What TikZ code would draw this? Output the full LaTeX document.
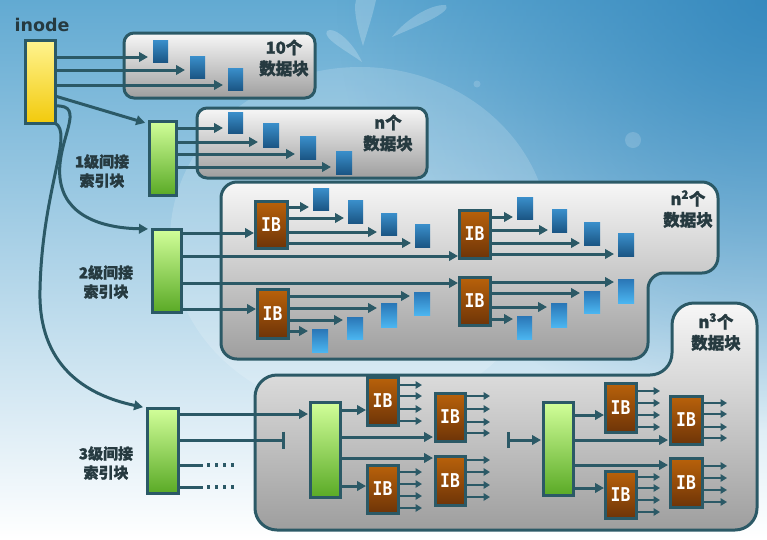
\documentclass[tikz,border=0pt]{standalone}
\usepackage{fontspec}
\newfontfamily\cjk[BoldFeatures={FakeBold=1.6}]{Noto Sans CJK SC}
\newfontfamily\dv{DejaVu Sans}
\newfontfamily\dvm{DejaVu Sans Mono}
\usetikzlibrary{arrows.meta,fadings}
\definecolor{ln}{HTML}{2B5966}
\definecolor{txt}{HTML}{263A40}
\definecolor{bgA}{HTML}{62AAD2}
\definecolor{bgB}{HTML}{A8D3E5}
\definecolor{bgC}{HTML}{2F84BB}
\definecolor{pT}{HTML}{F7F7F7}
\definecolor{pB}{HTML}{9E9E9E}
\definecolor{gT}{HTML}{D2FF9A}
\definecolor{gB}{HTML}{5AAA26}
\definecolor{yT}{HTML}{FFF490}
\definecolor{yB}{HTML}{F2CA0C}
\definecolor{ibT}{HTML}{B9620A}
\definecolor{ibB}{HTML}{6E3408}
\definecolor{dbT}{HTML}{3A8FCB}
\definecolor{dbB}{HTML}{1B5685}
\definecolor{lbT}{HTML}{2A76B6}
\definecolor{lbB}{HTML}{4BB5F0}
\tikzfading[name=fadeTR, inner color=transparent!15, outer color=transparent!100]
\pgfdeclarelayer{back}
\pgfdeclarelayer{mid}
\pgfsetlayers{back,mid,main}
\newcommand\mkbox[7]{%
  \pgfmathsetmacro\bw{#5-#3}\pgfmathsetmacro\bh{#6-#4}%
  \node[#1, anchor=north west, minimum width=\bw pt, minimum height=\bh pt] (#2) at (#3,#4) {#7};}
\newcommand\arr[4][]{\draw[conn,#1] (#2.east|-0,#4) -- (#3.west|-0,#4);}
\newcommand\outs[3]{\foreach \yy in {#2} {\draw[sconn] (#1.east|-0,\yy) -- ++(#3,0);}}
\newcommand\IBt{\scalebox{0.86}[1]{IB}}
\begin{document}
\begin{tikzpicture}[x=1pt,y=-1pt,
  conn/.style={draw=ln, line width=3pt, -{Triangle[length=9pt,width=9.5pt]}},
  sconn/.style={draw=ln, line width=2.4pt, -{Triangle[length=6.5pt,width=7.5pt]}},
  panel/.style={top color=pT, bottom color=pB, draw=ln, line width=3pt},
  bx/.style={rectangle, inner sep=0pt, outer sep=0pt},
  dblue/.style={bx, top color=dbT, bottom color=dbB},
  lblue/.style={bx, top color=lbT, bottom color=lbB},
  grn/.style={bx, top color=gT, bottom color=gB, draw=ln, line width=3pt},
  ylw/.style={bx, top color=yT, bottom color=yB, draw=ln, line width=3pt},
  ib/.style={bx, top color=ibT, bottom color=ibB, draw=ln, line width=3pt, text=white,
     font=\dvm\bfseries\fontsize{19}{19}\selectfont},
  lbl/.style={text=txt, align=center, font=\cjk\bfseries\fontsize{16.5}{21}\selectfont},
  slbl/.style={text=txt, align=center, font=\cjk\bfseries\fontsize{15}{19}\selectfont},
  deco/.style={fill=white, opacity=0.16}]
\useasboundingbox (0,0) rectangle (767,539);
\begin{pgfonlayer}{back}
\begin{scope}
\clip (0,0) rectangle (767,539);
\shade[top color=bgA, middle color=bgB, bottom color=white] (0,0) rectangle (767,539);
\fill[bgC, path fading=fadeTR] (767,0) circle (430);
% decorative splash
\fill[deco] (360,240) ellipse (190 and 173);
\fill[deco, opacity=0.22] (362,62) .. controls (345,50) and (322,38) .. (327,31) .. controls (333,26) and (352,40) .. (362,62) -- cycle;
\fill[deco, opacity=0.22] (363,46) .. controls (358,30) and (353,10) .. (356,0) -- (376,0) .. controls (372,18) and (367,32) .. (363,46) -- cycle;
\fill[deco, opacity=0.22] (392,37) .. controls (405,20) and (430,4) .. (446,5) .. controls (452,12) and (420,25) .. (392,37) -- cycle;
\fill[deco] (477,84) circle (3.5);
\fill[deco] (633,140) circle (8);
\end{scope}
% panels
\shadedraw[panel, rounded corners=10pt] (124,33) rectangle (315,98);
\shadedraw[panel, rounded corners=10pt] (197,108) rectangle (427,178);
\shadedraw[panel, rounded corners=16pt] (221,182) -- (718,182) -- (718,273) -- (648,273) -- (648,359) -- (221,359) -- cycle;
\shadedraw[panel, rounded corners=22pt] (255,375) -- (672,375) -- (672,303) -- (757,303) -- (757,530) -- (255,530) -- cycle;
\end{pgfonlayer}

% main index blocks
\mkbox{ylw}{inode}{25}{40}{55}{123}{}
\mkbox{grn}{g1}{149}{121}{176}{195}{}
\mkbox{grn}{g2}{152}{229}{181}{312}{}
\mkbox{grn}{g3}{147}{408}{178}{493}{}

% panel 1 data blocks
\mkbox{dblue}{a1}{153}{40}{168}{62}{}
\mkbox{dblue}{a2}{190}{56}{205}{78}{}
\mkbox{dblue}{a3}{228}{68}{243}{90}{}
% panel 2 data blocks
\mkbox{dblue}{b1}{228}{112}{243}{133}{}
\mkbox{dblue}{b2}{263}{123}{279}{147}{}
\mkbox{dblue}{b3}{300}{136}{316}{159}{}
\mkbox{dblue}{b4}{336}{151}{352}{174}{}

% panel 3
\mkbox{ib}{ia}{255}{201}{287}{248}{\IBt}
\mkbox{ib}{ib}{257}{289}{288}{338}{\IBt}
\mkbox{ib}{ic}{459}{210}{490}{258}{\IBt}
\mkbox{ib}{id}{459}{277}{490}{325}{\IBt}
\mkbox{dblue}{ca1}{313}{188}{329}{210}{}
\mkbox{dblue}{ca2}{348}{200}{363}{223}{}
\mkbox{dblue}{ca3}{381}{213}{397}{235}{}
\mkbox{dblue}{ca4}{415}{224}{430}{247}{}
\mkbox{lblue}{cb1}{414}{292}{430}{315}{}
\mkbox{lblue}{cb2}{381}{303}{397}{327}{}
\mkbox{lblue}{cb3}{347}{317}{363}{339}{}
\mkbox{lblue}{cb4}{312}{329}{328}{352}{}
\mkbox{dblue}{cc1}{517}{197}{533}{219}{}
\mkbox{dblue}{cc2}{552}{209}{567}{232}{}
\mkbox{dblue}{cc3}{584}{222}{600}{245}{}
\mkbox{dblue}{cc4}{618}{233}{634}{256}{}
\mkbox{lblue}{cd1}{618}{279}{634}{303}{}
\mkbox{lblue}{cd2}{584}{291}{600}{313}{}
\mkbox{lblue}{cd3}{551}{303}{567}{327}{}
\mkbox{lblue}{cd4}{517}{316}{532}{339}{}

% bottom panel
\mkbox{grn}{gi1}{310}{402}{340}{497}{}
\mkbox{grn}{gi2}{543}{402}{573}{495}{}
\mkbox{ib}{i1}{367}{377}{398}{425}{\IBt}
\mkbox{ib}{i2}{435}{393}{465}{441}{\IBt}
\mkbox{ib}{i3}{367}{465}{398}{513}{\IBt}
\mkbox{ib}{i4}{435}{456}{465}{505}{\IBt}
\mkbox{ib}{i5}{605}{383}{636}{432}{\IBt}
\mkbox{ib}{i6}{670}{396}{702}{444}{\IBt}
\mkbox{ib}{i7}{605}{471}{636}{518}{\IBt}
\mkbox{ib}{i8}{670}{458}{702}{507}{\IBt}

\coordinate (tl) at (285,440);
\coordinate (tr) at (507,440);

\begin{pgfonlayer}{mid}
% inode -> panel 1
\arr[shorten >=5pt]{inode}{a1}{57}
\arr[shorten >=5pt]{inode}{a2}{70}
\arr[shorten >=5pt]{inode}{a3}{85}
% inode -> index blocks
\draw[conn, shorten >=4pt] (inode.east|-0,96) -- (g1.west|-0,124);
\draw[conn, shorten >=4pt] (inode.east|-0,106) .. controls (88,104) and (56,140) .. (60,178) .. controls (64,215) and (100,228) .. (g2.north west);
\draw[conn, shorten >=4pt] (inode.south east) .. controls (74,133) and (42,190) .. (40,290) .. controls (38,365) and (85,395) .. (g3.north west);
% g1 -> panel 2
\arr[shorten >=5pt]{g1}{b1}{128}
\arr[shorten >=5pt]{g1}{b2}{142}
\arr[shorten >=5pt]{g1}{b3}{154}
\arr[shorten >=5pt]{g1}{b4}{167}
% g2 -> IBs
\arr[shorten >=1pt]{g2}{ia}{233}
\arr[shorten >=1pt]{g2}{ic}{256}
\arr[shorten >=1pt]{g2}{id}{283}
\arr[shorten >=1pt]{g2}{ib}{309}
% IB -> data
\arr[shorten >=4pt]{ia}{ca1}{207}
\arr[shorten >=4pt]{ia}{ca2}{218}
\arr[shorten >=4pt]{ia}{ca3}{232}
\arr[shorten >=4pt]{ia}{ca4}{243}
\arr[shorten >=4pt]{ib}{cb1}{296}
\arr[shorten >=4pt]{ib}{cb2}{308}
\arr[shorten >=4pt]{ib}{cb3}{320}
\arr[shorten >=4pt]{ib}{cb4}{331}
\arr[shorten >=4pt]{ic}{cc1}{217}
\arr[shorten >=4pt]{ic}{cc2}{230}
\arr[shorten >=4pt]{ic}{cc3}{243}
\arr[shorten >=4pt]{ic}{cc4}{254}
\arr[shorten >=4pt]{id}{cd1}{282}
\arr[shorten >=4pt]{id}{cd2}{293}
\arr[shorten >=4pt]{id}{cd3}{307}
\arr[shorten >=4pt]{id}{cd4}{319}
% g3 lines
\arr[shorten >=2pt]{g3}{gi1}{414}
\draw[draw=ln, line width=3pt, -{Bar[width=17pt]}] (g3.east|-tl) -- (tl);
\draw[draw=ln, line width=3pt] (g3.east|-0,465) -- ++(25,0) coordinate (d1);
\draw[draw=ln, line width=3pt] (g3.east|-0,487) -- ++(25,0) coordinate (d2);
\draw[draw=ln, line width=3.2pt, dash pattern=on 3pt off 5pt] (d1) ++(4,0) -- ++(28,0);
\draw[draw=ln, line width=3.2pt, dash pattern=on 3pt off 5pt] (d2) ++(4,0) -- ++(28,0);
% bottom panel left group
\arr[shorten >=1pt]{gi1}{i1}{410}
\arr[shorten >=2pt]{gi1}{i2}{437}
\arr[shorten >=2pt]{gi1}{i4}{458}
\arr[shorten >=1pt]{gi1}{i3}{486}
\outs{i1}{385,396,409,421}{24}
\outs{i2}{396,409,422,433}{25}
\outs{i3}{472,484,496,508}{24}
\outs{i4}{460,472,485,497}{25}
% right group
\draw[draw=ln, line width=3pt, {Bar[width=16pt]}-{Triangle[length=9pt,width=9.5pt]}, shorten >=2pt] (tr) -- (gi2.west|-tr);
\arr[shorten >=1pt]{gi2}{i5}{415}
\arr[shorten >=2pt]{gi2}{i6}{440}
\arr[shorten >=2pt]{gi2}{i8}{465}
\arr[shorten >=1pt]{gi2}{i7}{488}
\outs{i5}{391,403,415,427}{24}
\outs{i6}{403,414,427,438}{25}
\outs{i7}{477,488,500,512}{24}
\outs{i8}{466,478,490,502}{25}
\end{pgfonlayer}

% texts
\node[text=txt, font=\dv\bfseries\fontsize{17.5}{17.5}\selectfont] (tin) at (42,25) {inode};
\node[lbl] (t1) at (284,58) {10个\\数据块};
\node[lbl] (t2) at (388,133) {n个\\数据块};
\node[lbl] (t3) at (688,209) {n\textsuperscript{2}个\\数据块};
\node[lbl] (t4) at (716,332) {n\textsuperscript{3}个\\数据块};
\node[slbl] (l1) at (102,171) {1级间接\\索引块};
\node[slbl] (l2) at (106,282) {2级间接\\索引块};
\node[slbl] (l3) at (106,463) {3级间接\\索引块};
\end{tikzpicture}
\end{document}
